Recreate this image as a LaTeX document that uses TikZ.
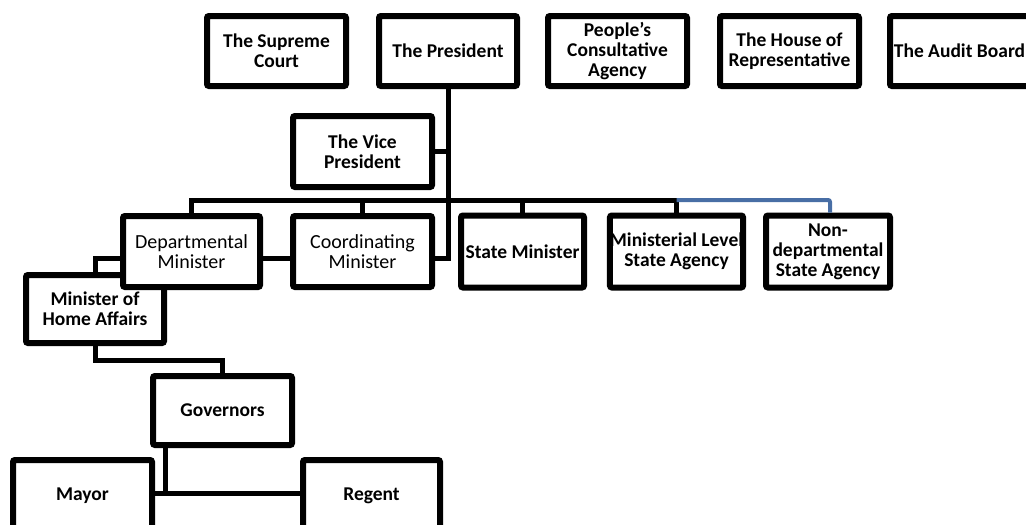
\documentclass[tikz,border=0pt]{standalone}
\usepackage{fontspec}
\setmainfont{Carlito}
\definecolor{linkblue}{RGB}{72,110,165}
\begin{document}
\begin{tikzpicture}[x=1pt,y=-1pt,
  box/.style={draw, line width=6pt, rounded corners=2pt, fill=white, align=center,
    inner sep=0pt, minimum width=139pt, minimum height=70pt,
    font=\bfseries\fontsize{19.5}{20}\selectfont},
  plainbox/.style={box, font=\fontsize{20}{20}\selectfont},
  conn/.style={line width=5pt},
  blueconn/.style={line width=4pt, draw=linkblue, rounded corners=2pt}]
\useasboundingbox (0,0) rectangle (1026,525);
\clip (0,0) rectangle (1026,525);
% top row
\node[box] (sup) at (276.5,51) {The Supreme\\Court};
\node[box, minimum width=138pt] (pres) at (448,51) {The President};
\node[box] (ppl) at (617.5,51) {People's\\Consultative\\Agency};
\node[box] (house) at (789.5,51) {The House of\\Representative};
\node[box] (audit) at (959.5,51) {The Audit Board};
% vice president
\node[box, minimum height=71pt] (vp) at (362.5,151.5) {The Vice\\President};
% minister of home affairs (behind departmental minister)
\node[box, minimum width=138pt, minimum height=68pt] (moha) at (95,309) {Minister of\\Home Affairs};
% ministers row
\node[plainbox, minimum width=137pt, minimum height=71pt] (dept) at (191.5,251.5) {Departmental\\Minister};
\node[plainbox, minimum height=71pt] (coord) at (362.5,251.5) {Coordinating\\Minister};
\node[box, minimum width=123pt, minimum height=72pt] (state) at (522.5,251.5) {State Minister};
\node[box, minimum width=125pt, minimum height=72pt] (mlsa) at (676.5,251.5) {Ministerial Level\\State Agency};
\node[box, minimum width=124pt, minimum height=72pt] (ndsa) at (828,251.5) {Non-\\departmental\\State Agency};
% regional
\node[box, minimum height=69pt] (gov) at (222.5,410.5) {Governors};
\node[box, minimum height=72pt] (mayor) at (82.5,496) {Mayor};
\node[box, minimum width=137pt, minimum height=72pt] (regent) at (371.5,496) {Regent};
% helper levels
\coordinate (bus) at (0,200);
\coordinate (govbus) at (0,360);
\coordinate (mrbus) at (0,493);
% connectors
\draw[conn] (pres.south) |- ([yshift=-6.5pt]coord.east);
\draw[conn] (vp.east) -- (vp.east -| pres.south);
\draw[conn] (dept.north) -- (dept.north |- bus) -- (mlsa.north |- bus) -- (mlsa.north);
\draw[conn] (coord.north) -- (coord.north |- bus);
\draw[conn] (state.north) -- (state.north |- bus);
\draw[blueconn] (mlsa.north |- bus) -- ([xshift=2pt]ndsa.north |- bus) -- ([xshift=2pt]ndsa.north);
\draw[conn] ([yshift=-6.5pt]dept.east) -- ([yshift=-6.5pt]coord.west);
\draw[conn] (moha.north) |- ([yshift=-6.5pt]dept.west);
\draw[conn] (moha.south) -- (moha.south |- govbus) -| (gov.north);
\draw[conn] ([xshift=-57pt]gov.south) -- ([xshift=-57pt]gov.south |- mrbus);
\draw[conn] (mayor.east |- mrbus) -- (regent.west |- mrbus);
\end{tikzpicture}
\end{document}
